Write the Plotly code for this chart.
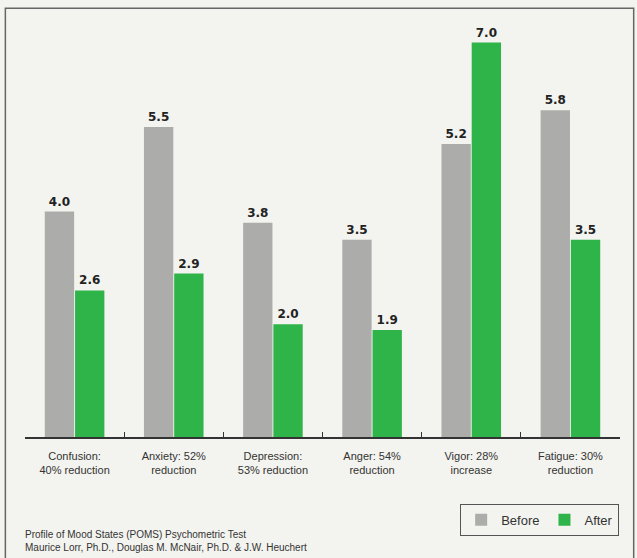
import plotly.graph_objects as go

categories = ["Confusion:<br>40% reduction", "Anxiety: 52%<br>reduction", "Depression:<br>53% reduction",
              "Anger: 54%<br>reduction", "Vigor: 28%<br>increase", "Fatigue: 30%<br>reduction"]
before = [4.0, 5.5, 3.8, 3.5, 5.2, 5.8]
after = [2.6, 2.9, 2.0, 1.9, 7.0, 3.5]

gray = "#acadaa"
green = "#2fb44a"
label_font = dict(family="DejaVu Sans", size=12, color="#222222")

fig = go.Figure()
fig.add_trace(go.Bar(x=categories, y=before, name="Before", marker=dict(color=gray, line=dict(width=0)),
                     text=[f"<b>{v:.1f}</b>" for v in before], textposition="outside",
                     textfont=label_font, cliponaxis=False))
fig.add_trace(go.Bar(x=categories, y=after, name="After", marker=dict(color=green, line=dict(width=0)),
                     text=[f"<b>{v:.1f}</b>" for v in after], textposition="outside",
                     textfont=label_font, cliponaxis=False))

fig.update_layout(
    width=637, height=558,
    margin=dict(l=25, r=17, t=20, b=121, autoexpand=False),
    paper_bgcolor="#f3f3ef", plot_bgcolor="#f3f3ef",
    barmode="group", bargap=0.39, bargroupgap=0.03,
    font=dict(family="Liberation Sans, Arial", size=11, color="#333333"),
    legend=dict(orientation="h", xref="container", yref="container", x=0.972, y=0.097,
                xanchor="right", yanchor="top",
                bordercolor="#555555", borderwidth=1, bgcolor="#f3f3ef",
                font=dict(size=13, color="#333333"), itemwidth=30, tracegroupgap=0),
    showlegend=True,
)
fig.update_xaxes(showline=True, linecolor="#333333", linewidth=1.5, ticks="inside", ticklen=5,
                 tickcolor="#333333", tickson="boundaries", showgrid=False, ticklabelstandoff=8,
                 tickfont=dict(size=11, color="#333333"))
fig.update_yaxes(range=[0, 7.4], visible=False, showgrid=False)

fig.add_annotation(text="Profile of Mood States (POMS) Psychometric Test<br>Maurice Lorr, Ph.D., Douglas M. McNair, Ph.D. & J.W. Heuchert",
                   xref="paper", yref="paper", x=-0.003, y=-0.215, xanchor="left", yanchor="top",
                   align="left", showarrow=False, font=dict(size=10, color="#333333"))
fig.add_shape(type="rect", xref="paper", yref="paper", x0=-0.033, x1=1.023, y0=-0.3, y1=1.028,
              line=dict(color="#666666", width=1.5))

fig.write_html("out.html")
